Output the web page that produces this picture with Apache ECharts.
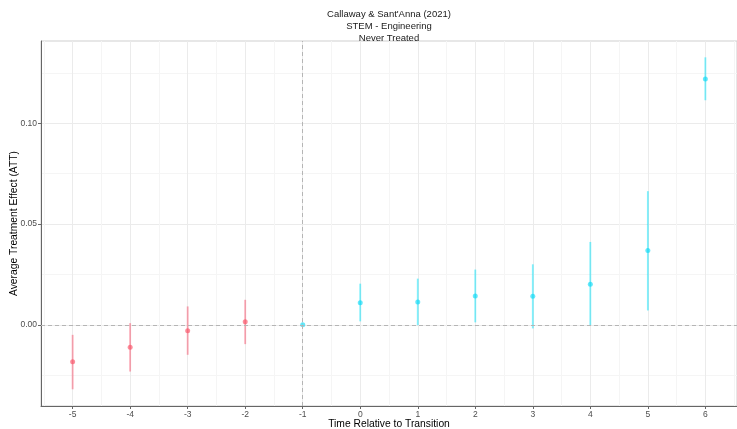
<!DOCTYPE html>
<html>
<head>
<meta charset="utf-8">
<script src="https://cdn.jsdelivr.net/npm/echarts@6/dist/echarts.min.js"></script>
<style>html,body{margin:0;padding:0;background:#fff;}#c{width:737px;height:429px;}</style>
</head>
<body>
<div id="c"></div>
<script>
var times = [-5, -4, -3, -2, -1, 0, 1, 2, 3, 4, 5, 6];
var att   = [-0.0184, -0.0111, -0.0030, 0.0015, 0.0000, 0.0109, 0.0113, 0.0143, 0.0141, 0.0201, 0.0368, 0.1220];
var lower = [-0.0320, -0.0232, -0.0149, -0.0096, 0.0000, 0.0017, -0.0002, 0.0012, -0.0018, -0.0003, 0.0071, 0.1114];
var upper = [-0.0050, 0.0008, 0.0091, 0.0124, 0.0000, 0.0204, 0.0229, 0.0274, 0.0300, 0.0411, 0.0663, 0.1327];
var xTicks = [-5, -4, -3, -2, -1, 0, 1, 2, 3, 4, 5, 6];
var xMinor = [-5.5, -4.5, -3.5, -2.5, -1.5, -0.5, 0.5, 1.5, 2.5, 3.5, 4.5, 5.5, 6.5];
var yTicks = [0, 0.05, 0.10];
var yMinor = [-0.025, 0.025, 0.075, 0.125];
var titleLines = ["Callaway & Sant'Anna (2021)", "STEM - Engineering", "Never Treated"];

var RED = 'rgba(248,80,105,0.5)', RED_PT = 'rgba(248,80,100,0.8)';
var CY = 'rgba(0,225,250,0.5)', CY_PT = 'rgba(0,215,245,0.75)';
var FONT = '"Liberation Sans", Arial, sans-serif';

function pick(pre) {
  var pts = [], bars = [];
  for (var i = 0; i < times.length; i++) {
    var isPre = times[i] < -1;
    if (isPre === pre) {
      pts.push([times[i], att[i]]);
      bars.push([times[i], lower[i], upper[i]]);
    }
  }
  return {pts: pts, bars: bars};
}
var pre = pick(true), post = pick(false);

function barRender(color) {
  return function (params, api) {
    var x = api.value(0);
    var p1 = api.coord([x, api.value(1)]);
    var p2 = api.coord([x, api.value(2)]);
    return {type: 'line', shape: {x1: p1[0], y1: p1[1], x2: p2[0], y2: p2[1]},
      style: {stroke: color, lineWidth: 1.8}};
  };
}

var XMIN = -5.55, XMAX = 6.55, YMIN = -0.0403, YMAX = 0.1408;
var chart = echarts.init(document.getElementById('c'), null, {renderer: 'canvas'});
chart.setOption({
  animation: false,
  backgroundColor: '#fff',
  graphic: [{
    type: 'text', x: 389, y: 8,
    style: {text: titleLines.join('\n'), textAlign: 'center', fill: '#1a1a1a',
      font: '9.5px ' + FONT, lineHeight: 12}
  }],
  grid: {left: 41, right: 0, top: 41, bottom: 23, show: true, borderColor: '#cfcfcf', borderWidth: 1,
    backgroundColor: '#fff', containLabel: false, outerBoundsMode: 'none'},
  xAxis: [{
    type: 'value', min: XMIN, max: XMAX,
    name: 'Time Relative to Transition', nameLocation: 'middle', nameGap: 13, nameMoveOverlap: false,
    nameTextStyle: {color: '#000', fontSize: 10.3, fontFamily: 'Liberation Sans', verticalAlign: 'top'},
    axisLine: {show: true, onZero: false, lineStyle: {color: '#666', width: 1}},
    axisTick: {show: true, length: 3, lineStyle: {color: '#666'}, customValues: xTicks},
    axisLabel: {customValues: xTicks, color: '#4d4d4d', fontSize: 8.5, margin: 4, fontFamily: 'Liberation Sans',
      formatter: function (v) { return String(Math.round(v)); }},
    splitLine: {show: true, lineStyle: {color: '#ebebeb', width: 1}}
  }, {
    type: 'value', min: XMIN, max: XMAX, position: 'bottom',
    axisLine: {show: false, onZero: false}, axisLabel: {show: false},
    axisTick: {show: false, customValues: xMinor},
    splitLine: {show: true, lineStyle: {color: '#f5f5f5', width: 1}}
  }],
  yAxis: [{
    type: 'value', min: YMIN, max: YMAX,
    name: 'Average Treatment Effect (ATT)', nameLocation: 'middle', nameGap: 27, nameRotate: 90, nameMoveOverlap: false,
    nameTextStyle: {color: '#000', fontSize: 10.3, fontFamily: 'Liberation Sans', verticalAlign: 'middle'},
    axisLine: {show: true, onZero: false, lineStyle: {color: '#666', width: 1}},
    axisTick: {show: true, length: 3, lineStyle: {color: '#666'}, customValues: yTicks},
    axisLabel: {customValues: yTicks, color: '#4d4d4d', fontSize: 8.5, margin: 4, fontFamily: 'Liberation Sans',
      formatter: function (v) { return v.toFixed(2); }},
    splitLine: {show: true, lineStyle: {color: '#ebebeb', width: 1}}
  }, {
    type: 'value', min: YMIN, max: YMAX,
    axisLine: {show: false, onZero: false}, axisLabel: {show: false},
    axisTick: {show: false, customValues: yMinor},
    splitLine: {show: true, lineStyle: {color: '#f5f5f5', width: 1}}
  }],
  series: [
    {type: 'custom', name: 'pre-bars', data: pre.bars, renderItem: barRender(RED), encode: {x: 0, y: [1, 2]}, z: 3,
     markLine: {silent: true, symbol: 'none', label: {show: false},
       lineStyle: {color: '#b5b5b5', type: [4, 3], width: 1},
       data: [{xAxis: -1}, {yAxis: 0}]}},
    {type: 'custom', name: 'post-bars', data: post.bars, renderItem: barRender(CY), encode: {x: 0, y: [1, 2]}, z: 3},
    {type: 'scatter', name: 'pre', data: pre.pts, symbolSize: 5, itemStyle: {color: RED_PT}, z: 4},
    {type: 'scatter', name: 'post', data: post.pts, symbolSize: 5, itemStyle: {color: CY_PT}, z: 4}
  ]
});
</script>
</body>
</html>
